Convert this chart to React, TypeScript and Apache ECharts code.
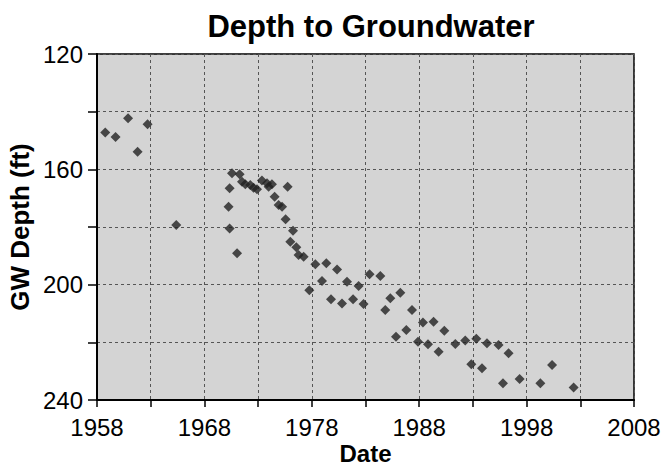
import React, { useEffect, useRef } from "react";
import * as echarts from "echarts";

const titleText = "Depth to Groundwater";
const xAxisName = "Date";
const yAxisName = "GW Depth (ft)";

const years = [
  1958.77, 1959.73, 1960.89, 1962.71, 1961.78, 1965.38,
  1970.57, 1971.28, 1970.35, 1970.25, 1970.35, 1971.04, 1971.5, 1971.81, 1972.27, 1972.58,
  1972.9, 1973.36, 1973.83, 1974.29, 1973.98, 1975.75, 1974.54, 1974.91, 1975.23, 1975.56,
  1976.25, 1976.0, 1976.56, 1976.77, 1977.24, 1978.33, 1979.35, 1980.35, 1978.95, 1977.77,
  1981.28, 1982.36, 1983.38, 1984.38, 1979.79, 1980.81, 1981.84, 1982.82, 1985.31, 1984.84,
  1986.24, 1985.84, 1986.8, 1987.33, 1988.35, 1989.34, 1990.34, 1987.89, 1988.82, 1989.81,
  1991.36, 1992.29, 1993.32, 1994.31, 1995.39, 1996.32, 1992.85, 1993.85, 1995.8, 1997.35,
  1999.28, 2000.37, 2002.38,
];

const depths = [
  147.2, 148.8, 142.3, 144.4, 153.9, 179.3,
  161.4, 161.7, 166.6, 173.0, 180.5, 189.1, 164.3, 165.2, 165.4, 166.4,
  166.9, 163.9, 164.8, 165.2, 166.0, 166.0, 169.5, 172.4, 173.0, 177.3,
  181.3, 185.1, 187.0, 189.7, 190.3, 192.9, 192.6, 194.7, 198.7, 201.9,
  199.0, 200.5, 196.4, 197.0, 205.1, 206.5, 205.1, 206.7, 204.7, 208.8,
  202.8, 218.1, 215.7, 208.8, 213.1, 212.9, 216.0, 219.8, 220.7, 223.3,
  220.6, 219.4, 218.8, 220.3, 220.9, 223.8, 227.6, 229.0, 234.2, 232.7,
  234.2, 227.9, 235.7,
];

const xLabelYears = [1958, 1968, 1978, 1988, 1998, 2008];
const yLabelValues = [120, 160, 200, 240];

const FONT = "'Liberation Sans', Arial, Helvetica, sans-serif";

export default function App() {
  const ref = useRef<HTMLDivElement>(null);
  useEffect(() => {
    if (!ref.current) return;
    const chart = echarts.init(ref.current, null, { renderer: "svg" });
    const gridLine = { show: true, lineStyle: { color: "#555", width: 1, type: [3, 3] as any } };
    chart.setOption({
      animation: false,
      backgroundColor: "#fff",
      title: {
        text: titleText,
        left: 366,
        top: 6,
        textAlign: "center",
        textStyle: { fontFamily: FONT, fontSize: 31, fontWeight: "bold", color: "#000" },
      },
      grid: {
        left: 97,
        right: 31,
        top: 54,
        bottom: 68,
        show: true,
        containLabel: false,
        outerBoundsMode: "none",
        backgroundColor: "#d4d4d4",
        borderColor: "#000",
        borderWidth: 1.5,
      },
      xAxis: {
        type: "value",
        min: 1958,
        max: 2008,
        interval: 5,
        name: xAxisName,
        nameLocation: "middle",
        nameGap: 40,
        nameMoveOverlap: false,
        nameTextStyle: { fontFamily: FONT, fontSize: 24, fontWeight: "bold", color: "#000", lineHeight: 26 },
        axisLine: { show: true, onZero: false, lineStyle: { color: "#000", width: 2 } },
        axisTick: { show: true, inside: false, length: 7, lineStyle: { color: "#000", width: 1.5 } },
        axisLabel: {
          fontFamily: FONT,
          fontSize: 24,
          color: "#000",
          margin: 15,
          formatter: (v: number) => (xLabelYears.includes(Math.round(v)) ? String(Math.round(v)) : ""),
        },
        splitLine: gridLine,
      },
      yAxis: {
        type: "value",
        inverse: true,
        min: 120,
        max: 240,
        interval: 20,
        name: yAxisName,
        nameLocation: "middle",
        nameGap: 64,
        nameRotate: 90,
        nameMoveOverlap: false,
        nameTextStyle: { fontFamily: FONT, fontSize: 26, fontWeight: "bold", color: "#000" },
        axisLine: { show: true, onZero: false, lineStyle: { color: "#000", width: 2 } },
        axisTick: { show: true, inside: false, length: 9, lineStyle: { color: "#000", width: 1.5 } },
        axisLabel: {
          fontFamily: FONT,
          fontSize: 24,
          color: "#000",
          margin: 14,
          formatter: (v: number) => (yLabelValues.includes(Math.round(v)) ? String(Math.round(v)) : ""),
        },
        splitLine: gridLine,
      },
      series: [
        {
          type: "scatter",
          data: years.map((y, i) => [y, depths[i]]),
          symbol: "diamond",
          symbolSize: 10,
          itemStyle: { color: "#222" },
        },
      ],
    });
    return () => chart.dispose();
  }, []);
  return (
    <div
      ref={ref}
      style={{ position: "absolute", left: 0, top: 0, width: 665, height: 468 }}
    />
  );
}
